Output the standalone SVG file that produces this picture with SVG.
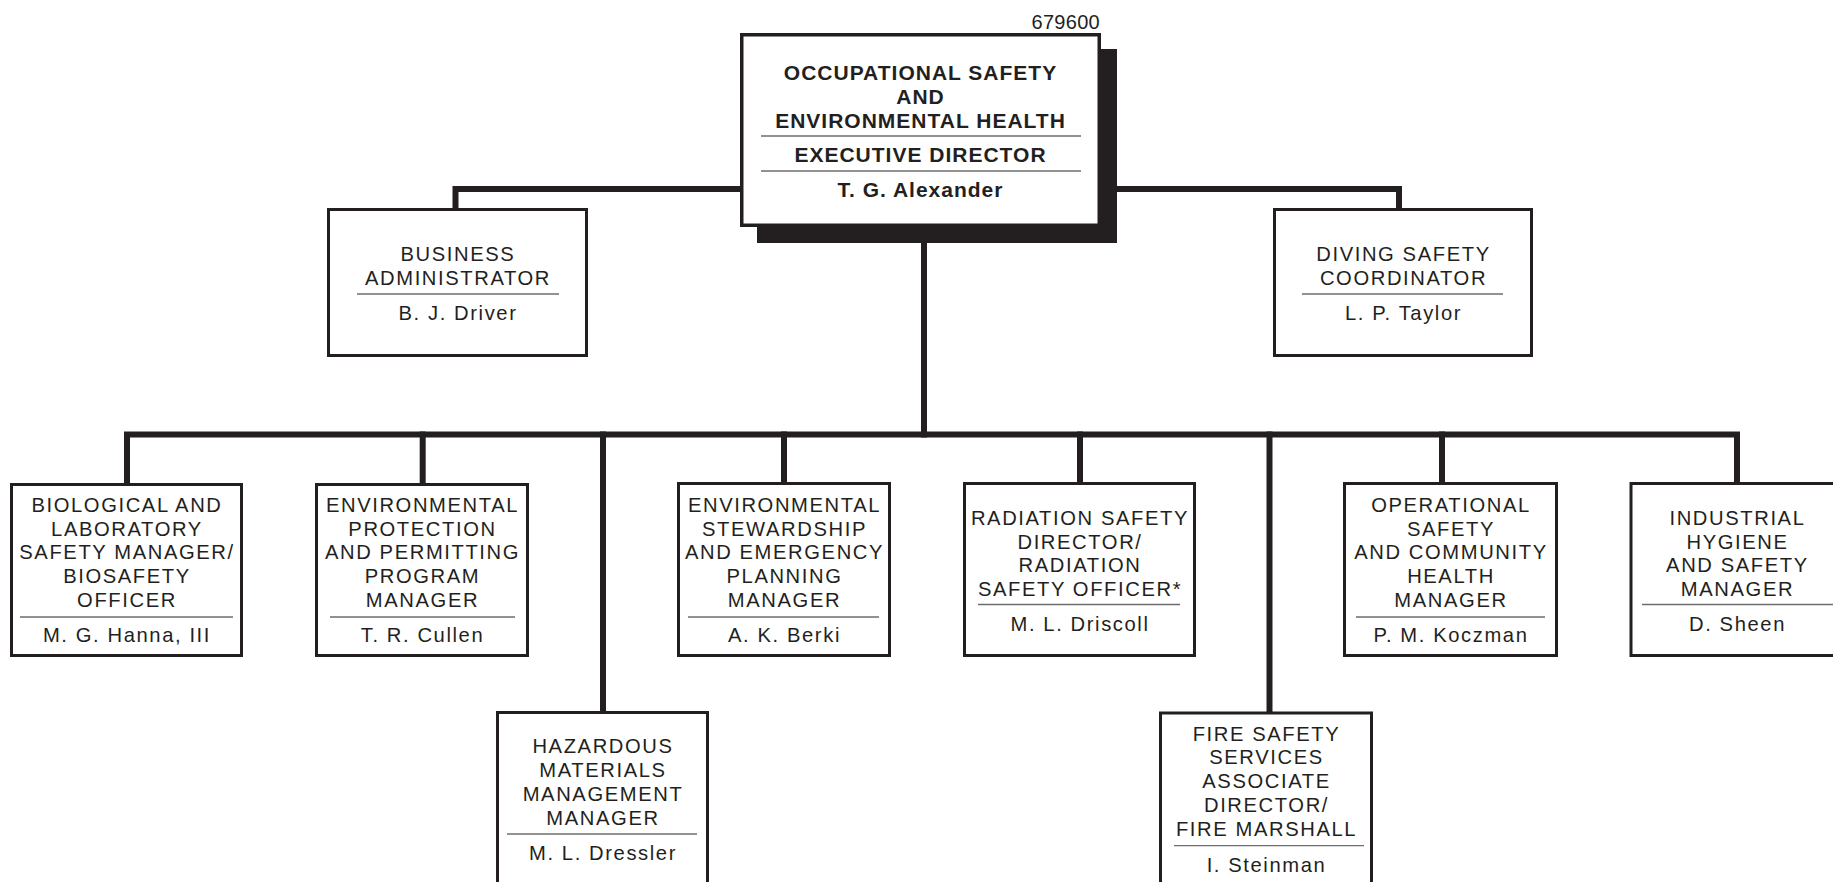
<svg xmlns="http://www.w3.org/2000/svg" width="1833" height="882" viewBox="0 0 1833 882">
<style>
.bg{fill:#ffffff}
.conn{fill:none;stroke:#231f20;stroke-width:6;stroke-linejoin:miter;stroke-linecap:square}
.box{fill:#ffffff;stroke:#231f20;stroke-width:3}
.mainbox{fill:#ffffff;stroke:#231f20;stroke-width:3.5}
.shadow{fill:#231f20}
.sep{stroke:#6d6d6d;stroke-width:1.3}
.t{font-family:"Liberation Sans",Arial,sans-serif;font-size:20.2px;letter-spacing:1.6px;fill:#231f20;text-anchor:middle}
.tb{font-family:"Liberation Sans",Arial,sans-serif;font-size:21px;font-weight:bold;letter-spacing:1px;fill:#231f20;text-anchor:middle}
.num{font-family:"Liberation Sans",Arial,sans-serif;font-size:20px;letter-spacing:0.3px;fill:#231f20;text-anchor:end}
</style>
<rect class="bg" x="0" y="0" width="1833" height="882"/>
<g id="connectors">
<path class="conn" d="M455.5 208 V189 H1399 V208"/>
<path class="conn" d="M924 200 V434.5"/>
<path class="conn" d="M127 483 V434.5 H1737 V482"/>
<path class="conn" d="M422.7 434.5 V483"/>
<path class="conn" d="M603 434.5 V711"/>
<path class="conn" d="M784 434.5 V482"/>
<path class="conn" d="M1080 434.5 V482"/>
<path class="conn" d="M1269.5 434.5 V711"/>
<path class="conn" d="M1442 434.5 V482"/>
</g>
<text class="num" x="1100" y="28.5">679600</text>
<g id="executive">
<rect class="shadow" x="757" y="49" width="360" height="194"/>
<rect class="mainbox" x="741.75" y="34.75" width="357.5" height="190.5"/>
<text class="tb" x="920.5" y="80">OCCUPATIONAL SAFETY</text>
<text class="tb" x="920.5" y="103.5">AND</text>
<text class="tb" x="920.5" y="128">ENVIRONMENTAL HEALTH</text>
<line class="sep" x1="761" y1="136" x2="1081" y2="136"/>
<text class="tb" x="920.5" y="162">EXECUTIVE DIRECTOR</text>
<line class="sep" x1="761" y1="171" x2="1081" y2="171"/>
<text class="tb" x="920.5" y="197">T. G. Alexander</text>
</g>
<g id="business">
<rect class="box" x="328.5" y="209.5" width="258" height="146"/>
<text class="t" x="458" y="261">BUSINESS</text>
<text class="t" x="458" y="284.5">ADMINISTRATOR</text>
<line class="sep" x1="357" y1="294" x2="559" y2="294"/>
<text class="t" x="458" y="320">B. J. Driver</text>
</g>
<g id="diving">
<rect class="box" x="1274.5" y="209.5" width="257" height="146"/>
<text class="t" x="1403.5" y="261">DIVING SAFETY</text>
<text class="t" x="1403.5" y="284.5">COORDINATOR</text>
<line class="sep" x1="1302" y1="294" x2="1503" y2="294"/>
<text class="t" x="1403.5" y="320">L. P. Taylor</text>
</g>
<g id="biological">
<rect class="box" x="11.5" y="484.5" width="230" height="171"/>
<text class="t" x="127" y="512">BIOLOGICAL AND</text>
<text class="t" x="127" y="535.7">LABORATORY</text>
<text class="t" x="127" y="559.4">SAFETY MANAGER/</text>
<text class="t" x="127" y="583.1">BIOSAFETY</text>
<text class="t" x="127" y="607">OFFICER</text>
<line class="sep" x1="20" y1="617" x2="233" y2="617"/>
<text class="t" x="127" y="642">M. G. Hanna, III</text>
</g>
<g id="env-protection">
<rect class="box" x="316.5" y="484.5" width="211" height="171"/>
<text class="t" x="422.5" y="512">ENVIRONMENTAL</text>
<text class="t" x="422.5" y="535.7">PROTECTION</text>
<text class="t" x="422.5" y="559.4">AND PERMITTING</text>
<text class="t" x="422.5" y="583.1">PROGRAM</text>
<text class="t" x="422.5" y="607">MANAGER</text>
<line class="sep" x1="330" y1="617" x2="515" y2="617"/>
<text class="t" x="422.5" y="642">T. R. Cullen</text>
</g>
<g id="hazardous">
<rect class="box" x="497.5" y="712.5" width="210" height="200"/>
<text class="t" x="603" y="753">HAZARDOUS</text>
<text class="t" x="603" y="777">MATERIALS</text>
<text class="t" x="603" y="801">MANAGEMENT</text>
<text class="t" x="603" y="825">MANAGER</text>
<line class="sep" x1="507" y1="834" x2="697" y2="834"/>
<text class="t" x="603" y="860">M. L. Dressler</text>
</g>
<g id="env-stewardship">
<rect class="box" x="678.5" y="483.5" width="211" height="172"/>
<text class="t" x="784.5" y="512">ENVIRONMENTAL</text>
<text class="t" x="784.5" y="535.7">STEWARDSHIP</text>
<text class="t" x="784.5" y="559.4">AND EMERGENCY</text>
<text class="t" x="784.5" y="583.1">PLANNING</text>
<text class="t" x="784.5" y="607">MANAGER</text>
<line class="sep" x1="688" y1="617" x2="879" y2="617"/>
<text class="t" x="784.5" y="642">A. K. Berki</text>
</g>
<g id="radiation">
<rect class="box" x="964.5" y="483.5" width="230" height="172"/>
<text class="t" x="1080" y="525">RADIATION SAFETY</text>
<text class="t" x="1080" y="548.7">DIRECTOR/</text>
<text class="t" x="1080" y="572.4">RADIATION</text>
<text class="t" x="1080" y="596.1">SAFETY OFFICER*</text>
<line class="sep" x1="978" y1="604.5" x2="1180" y2="604.5"/>
<text class="t" x="1080" y="630.7">M. L. Driscoll</text>
</g>
<g id="fire">
<rect class="box" x="1160.5" y="713" width="211" height="200"/>
<text class="t" x="1266.5" y="740.7">FIRE SAFETY</text>
<text class="t" x="1266.5" y="764.4">SERVICES</text>
<text class="t" x="1266.5" y="788.1">ASSOCIATE</text>
<text class="t" x="1266.5" y="811.8">DIRECTOR/</text>
<text class="t" x="1266.5" y="835.8">FIRE MARSHALL</text>
<line class="sep" x1="1174" y1="845.7" x2="1364" y2="845.7"/>
<text class="t" x="1266.5" y="871.7">I. Steinman</text>
</g>
<g id="operational">
<rect class="box" x="1344.5" y="483.5" width="212" height="172"/>
<text class="t" x="1451" y="512">OPERATIONAL</text>
<text class="t" x="1451" y="535.7">SAFETY</text>
<text class="t" x="1451" y="559.4">AND COMMUNITY</text>
<text class="t" x="1451" y="583.1">HEALTH</text>
<text class="t" x="1451" y="607">MANAGER</text>
<line class="sep" x1="1356" y1="617" x2="1545" y2="617"/>
<text class="t" x="1451" y="642">P. M. Koczman</text>
</g>
<g id="industrial">
<rect class="box" x="1631" y="483.5" width="212" height="172"/>
<text class="t" x="1737.5" y="525">INDUSTRIAL</text>
<text class="t" x="1737.5" y="548.7">HYGIENE</text>
<text class="t" x="1737.5" y="572.4">AND SAFETY</text>
<text class="t" x="1737.5" y="596.1">MANAGER</text>
<line class="sep" x1="1642" y1="604.5" x2="1833" y2="604.5"/>
<text class="t" x="1737.5" y="630.7">D. Sheen</text>
</g>
</svg>
